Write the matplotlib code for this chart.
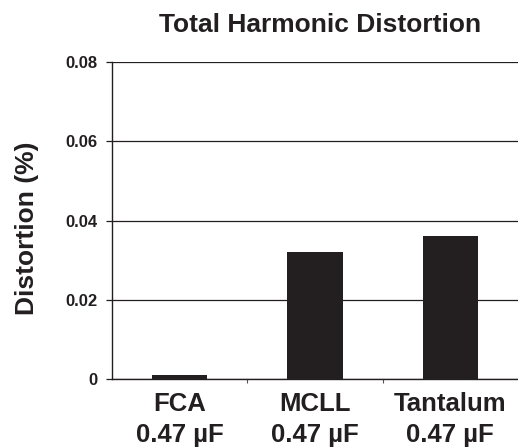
import matplotlib.pyplot as plt
import numpy as np

plt.rc('font', **{'family': 'sans-serif', 'sans-serif': ['Liberation Sans', 'DejaVu Sans']})

categories = ['FCA\n0.47 µF', 'MCLL\n0.47 µF', 'Tantalum\n0.47 µF']
distortion = [0.001, 0.032, 0.036]
yticks = [0, 0.02, 0.04, 0.06, 0.08]
ytick_labels = ['0', '0.02', '0.04', '0.06', '0.08']

fig = plt.figure(figsize=(5.18, 4.48), dpi=100)
ax = fig.add_axes([112 / 518, 1 - 379 / 448, 406 / 518, 317 / 448])

x = np.arange(len(categories))
ax.bar(x, distortion, width=0.41, color='#231f20', zorder=3)

ax.set_xlim(-0.5, 2.5)
ax.set_ylim(0, 0.08)
ax.set_yticks(yticks)
ax.set_yticklabels(ytick_labels, fontsize=12, fontweight='bold', color='#231f20')
ax.yaxis.grid(True, color='#231f20', lw=0.9, zorder=0)

# category labels between boundary ticks
ax.set_xticks([0.5, 1.5])
ax.set_xticklabels([])
ax.tick_params(axis='x', direction='out', length=3, width=0.8, color='#555555')
ax.set_xticks(x, minor=True)
ax.set_xticklabels(categories, minor=True, fontsize=18.5, fontweight='bold', color='#231f20',
                   linespacing=1.42)
ax.tick_params(axis='x', which='minor', length=0, pad=9)
ax.tick_params(axis='y', direction='out', length=4.3, width=0.9, color='#231f20', pad=6)

for s in ['top', 'right']:
    ax.spines[s].set_visible(False)
ax.spines['left'].set_color('#231f20')
ax.spines['bottom'].set_color('#231f20')
ax.spines['left'].set_linewidth(1.0)
ax.spines['bottom'].set_linewidth(1.0)

ax.set_ylabel('Distortion (%)', fontsize=19, fontweight='bold', color='#231f20')
ax.yaxis.set_label_coords(-0.18, 0.475)
fig.text(0.618, 0.945, 'Total Harmonic Distortion', ha='center', va='center',
         fontsize=19, fontweight='bold', color='#231f20')

fig.savefig('out.png', dpi=100)
